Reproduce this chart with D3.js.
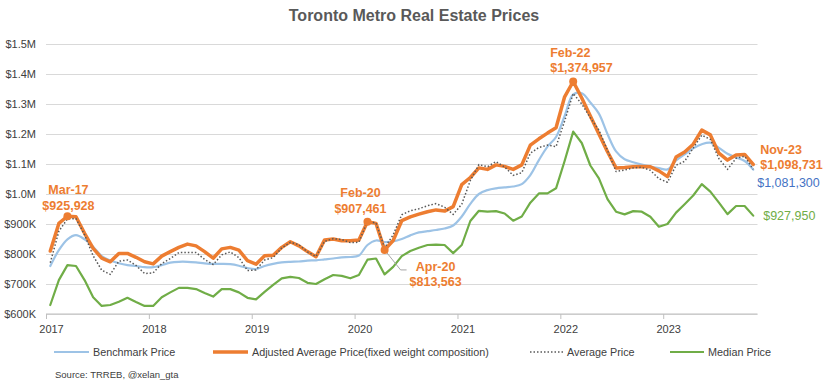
<!DOCTYPE html>
<html>
<head>
<meta charset="utf-8">
<script src="https://cdn.jsdelivr.net/npm/d3@7"></script>
<style>
  html, body { margin: 0; padding: 0; background: #fff; }
  svg { display: block; font-family: "Liberation Sans", Arial, sans-serif; }
</style>
</head>
<body>
<svg id="chart" width="832" height="387"></svg>
<script>
// ---------- DATA ----------
const years = [2017, 2018, 2019, 2020, 2021, 2022, 2023];
const monthNames = ["Jan","Feb","Mar","Apr","May","Jun","Jul","Aug","Sep","Oct","Nov","Dec"];
// Monthly categories Jan-2017 .. Nov-2023
const categories = years.flatMap(y => monthNames.map(m => `${m}-${String(y).slice(2)}`)).slice(0, 83);

const benchmarkPrice = [
  760000, 813000, 849000, 863000, 849000, 824000, 793000, 778000, 769000, 763000, 760000, 756000,
  756000, 763000, 771000, 774000, 774000, 772000, 769000, 767000, 767000, 766000, 761000, 753000,
  750000, 760000, 767000, 772000, 774000, 775000, 778000, 779000, 782000, 785000, 789000, 790000,
  795000, 830000, 845000, 840000, 842000, 850000, 862000, 872000, 876000, 880000, 885000, 895000,
  925000, 967000, 1000000, 1013000, 1019000, 1022000, 1025000, 1033000, 1063000, 1113000, 1158000, 1190000,
  1260000, 1332000, 1336000, 1305000, 1268000, 1200000, 1142000, 1116000, 1106000, 1098000, 1091000, 1086000,
  1082000, 1112000, 1132000, 1152000, 1166000, 1171000, 1154000, 1134000, 1122000, 1110000, 1081300
];
const adjustedAveragePrice = [
  810000, 902000, 925928, 924000, 869000, 819000, 786000, 774000, 802000, 802000, 789000, 774000,
  767000, 793000, 808000, 822000, 833000, 827000, 808000, 786000, 817000, 822000, 813000, 778000,
  766000, 794000, 796000, 822000, 841000, 827000, 808000, 791000, 847000, 850000, 844000, 844000,
  847000, 907461, 902000, 813563, 845000, 911000, 924000, 933000, 941000, 947000, 943000, 958000,
  1031000, 1055000, 1087000, 1082000, 1097000, 1092000, 1082000, 1097000, 1163000, 1184000, 1203000, 1221000,
  1324000, 1374957, 1320000, 1260000, 1200000, 1141000, 1087000, 1088000, 1091000, 1092000, 1091000, 1077000,
  1058000, 1123000, 1140000, 1166000, 1213000, 1197000, 1136000, 1113000, 1130000, 1132000, 1098731
];
const averagePrice = [
  771000, 876000, 917000, 918000, 864000, 794000, 746000, 732000, 776000, 780000, 762000, 735000,
  737000, 768000, 785000, 805000, 805000, 805000, 782000, 765000, 797000, 807000, 788000, 745000,
  747000, 780000, 788000, 820000, 839000, 831000, 807000, 792000, 842000, 851000, 848000, 838000,
  839000, 910000, 903000, 821000, 864000, 931000, 944000, 951000, 961000, 968000, 956000, 932000,
  966000, 1045000, 1098000, 1091000, 1108000, 1090000, 1062000, 1071000, 1136000, 1155000, 1163000, 1158000,
  1243000, 1335000, 1300000, 1254000, 1213000, 1146000, 1075000, 1080000, 1087000, 1089000, 1079000, 1051000,
  1039000, 1096000, 1109000, 1153000, 1196000, 1182000, 1118000, 1082000, 1119000, 1126000, 1082000
];
const medianPrice = [
  630000, 713000, 763000, 760000, 713000, 656000, 627000, 630000, 641000, 654000, 640000, 627000,
  627000, 656000, 672000, 687000, 687000, 683000, 670000, 658000, 683000, 683000, 672000, 654000,
  649000, 674000, 697000, 719000, 724000, 720000, 704000, 700000, 716000, 730000, 727000, 719000,
  730000, 781000, 785000, 732000, 757000, 793000, 810000, 821000, 830000, 831000, 830000, 803000,
  830000, 910000, 944000, 941000, 943000, 935000, 911000, 925000, 971000, 1002000, 1002000, 1019000,
  1110000, 1208000, 1170000, 1095000, 1052000, 983000, 941000, 932000, 943000, 941000, 924000, 891000,
  900000, 938000, 966000, 995000, 1033000, 1008000, 971000, 933000, 960000, 960000, 927950
];
const yTickValues = [600000, 700000, 800000, 900000, 1000000, 1100000, 1200000, 1300000, 1400000, 1500000];
const yTickLabels = ["$600K", "$700K", "$800K", "$900K", "$1.0M", "$1.1M", "$1.2M", "$1.3M", "$1.4M", "$1.5M"];
const seriesNames = ["Benchmark Price", "Adjusted Average Price(fixed weight composition)", "Average Price", "Median Price"];
const title = "Toronto Metro Real Estate Prices";
const sourceText = "Source: TRREB, @xelan_gta";

// ---------- LAYOUT ----------
const svg = d3.select("#chart");
const plot = { left: 46, right: 757.5, top: 44, bottom: 314 };
const x = d3.scaleLinear().domain([0, categories.length]).range([plot.left, plot.right]);
const xp = i => x(i + 0.5);
const y = d3.scaleLinear().domain([600000, 1500000]).range([plot.bottom, plot.top]);

const C = {
  blue: "#9DC3E6", orange: "#ED7D31", gray: "#595959", green: "#70AD47",
  grid: "#D9D9D9", axis: "#BFBFBF", text: "#404040", blueText: "#4472C4"
};

// title
svg.append("text").attr("x", 414).attr("y", 21).attr("text-anchor", "middle")
  .attr("font-size", 16).attr("font-weight", "bold").attr("fill", C.gray).text(title);

// gridlines + y labels
const yAxis = d3.axisLeft(y).tickValues(yTickValues)
  .tickFormat((d, i) => yTickLabels[i]).tickSize(-(plot.right - plot.left)).tickPadding(10);
const gy = svg.append("g").attr("transform", `translate(${plot.left},0)`).call(yAxis);
gy.select(".domain").remove();
gy.selectAll(".tick line").attr("stroke", C.grid).attr("stroke-width", 1);
gy.selectAll(".tick text").attr("font-size", 11).attr("fill", C.text)
  .attr("font-family", '"Liberation Sans", Arial, sans-serif');

// x axis
const yearIdx = years.map((yr, k) => k * 12);
const xAxis = d3.axisBottom(x).tickValues(yearIdx).tickFormat((d, k) => years[k]).tickSize(5).tickPadding(6);
const gx = svg.append("g").attr("transform", `translate(0,${plot.bottom})`).call(xAxis);
gx.select(".domain").attr("stroke", C.axis).attr("d", `M${plot.left},0H${plot.right}`);
gx.selectAll(".tick line").attr("stroke", C.axis);
gx.selectAll(".tick text").attr("font-size", 11).attr("fill", C.text).attr("dx", 5)
  .attr("font-family", '"Liberation Sans", Arial, sans-serif');

// lines
const line = d3.line().x((d, i) => xp(i)).y(d => y(d));
const addLine = (data, color, width, dash, curve) => svg.append("path").datum(data)
  .attr("fill", "none").attr("stroke", color).attr("stroke-width", width)
  .attr("stroke-linejoin", "round").attr("stroke-linecap", dash ? "butt" : "round")
  .attr("stroke-dasharray", dash || null)
  .attr("d", line.curve(curve || d3.curveLinear)(data));

addLine(benchmarkPrice, C.blue, 2.2, null, d3.curveCatmullRom);
addLine(adjustedAveragePrice, C.orange, 3.5);
addLine(averagePrice, C.gray, 1.5, "1.5,2");
addLine(medianPrice, C.green, 2.2);

// annotations on orange series
const ann = [
  { i: 2,  top: "Mar-17", bot: "$925,928", anchor: "middle", dx: 1,  dy1: -22, dy2: -6 },
  { i: 37, top: "Feb-20", bot: "$907,461", anchor: "middle", dx: -7, dy1: -25, dy2: -9 },
  { i: 39, top: "Apr-20", bot: "$813,563", anchor: "middle", dx: 51, dy1: 21, dy2: 36, leader: true },
  { i: 61, top: "Feb-22", bot: "$1,374,957", anchor: "start", dx: -23, dy1: -25, dy2: -10 }
];
ann.forEach(a => {
  const px = xp(a.i), py = y(adjustedAveragePrice[a.i]);
  if (a.leader) {
    svg.append("path").attr("fill", "none").attr("stroke", "#A6A6A6").attr("stroke-width", 1)
      .attr("d", `M${px},${py}L${px + 16},${py + 20}H${px + 22}`);
  }
  svg.append("circle").attr("cx", px).attr("cy", py).attr("r", 4).attr("fill", C.orange);
  const g = svg.append("g").attr("fill", C.orange).attr("font-size", 12.5).attr("font-weight", "bold")
    .attr("text-anchor", a.anchor);
  g.append("text").attr("x", px + a.dx).attr("y", py + a.dy1).text(a.top);
  g.append("text").attr("x", px + a.dx).attr("y", py + a.dy2).text(a.bot);
});

// end labels
const last = categories.length - 1;
const lx = xp(last);
svg.append("text").attr("x", lx + 7).attr("y", y(adjustedAveragePrice[last]) - 10)
  .attr("fill", C.orange).attr("font-size", 12.5).attr("font-weight", "bold").text("Nov-23");
svg.append("text").attr("x", lx + 7).attr("y", y(adjustedAveragePrice[last]) + 5)
  .attr("fill", C.orange).attr("font-size", 12.5).attr("font-weight", "bold").text("$1,098,731");
svg.append("text").attr("x", lx + 4).attr("y", y(benchmarkPrice[last]) + 17)
  .attr("fill", C.blueText).attr("font-size", 12.5).text("$1,081,300");
svg.append("text").attr("x", lx + 10).attr("y", y(medianPrice[last]) + 4)
  .attr("fill", C.green).attr("font-size", 12.5).text("$927,950");

// legend
const legendItems = [
  { name: seriesNames[0], color: C.blue, w: 2.2, dash: null, x1: 54, x2: 89 },
  { name: seriesNames[1], color: C.orange, w: 3.5, dash: null, x1: 213, x2: 248 },
  { name: seriesNames[2], color: C.gray, w: 1.3, dash: "1.5,2", x1: 530, x2: 563 },
  { name: seriesNames[3], color: C.green, w: 2.2, dash: null, x1: 670, x2: 704 }
];
const lg = svg.append("g");
legendItems.forEach(it => {
  lg.append("line").attr("x1", it.x1).attr("x2", it.x2).attr("y1", 352).attr("y2", 352)
    .attr("stroke", it.color).attr("stroke-width", it.w).attr("stroke-dasharray", it.dash);
  lg.append("text").attr("x", it.x2 + 4).attr("y", 356).attr("font-size", 10.8)
    .attr("fill", C.text).text(it.name);
});

svg.append("text").attr("x", 55).attr("y", 378).attr("font-size", 9.5).attr("fill", C.text).text(sourceText);
</script>
</body>
</html>
